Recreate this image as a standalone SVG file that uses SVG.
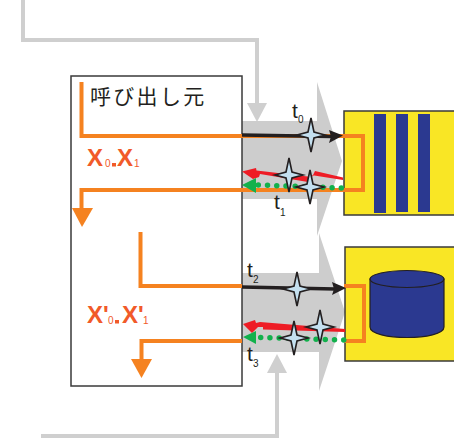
<svg xmlns="http://www.w3.org/2000/svg" width="454" height="438" viewBox="0 0 454 438">
<defs>
<path id="star" d="M0,-17 L3,-3 L14,0 L3,3 L0,17 L-3,3 L-14,0 L-3,-3 Z" fill="#c4e0f0" stroke="#231f20" stroke-width="1.6"/>
</defs>
<style>
.o{fill:none;stroke:#f58220;stroke-width:4}
.g{fill:none;stroke:#cfcfcf;stroke-width:4}
.t{font-family:"Liberation Sans",sans-serif;fill:#231f20;font-size:21px}
.s{font-family:"Liberation Sans",sans-serif;fill:#231f20;font-size:10px}
.x{font-family:"Liberation Sans",sans-serif;fill:#f15a29;font-weight:bold;font-size:24px}
.n{font-family:"Liberation Sans",sans-serif;fill:#f15a29;font-size:10px}
.dot{fill:none;stroke:#12b14c;stroke-width:5.500;stroke-linecap:round;stroke-dasharray:0 9.230}
.r{fill:#ee1c25}
</style>
<g id="bands">
<path d="M242,121 L317,121 L317,82 L342,161 L317,236 L317,199 L242,199 Z" fill="#cdcdcd"/>
<path d="M242,273 L319,273 L319,233 L345,312 L319,391 L319,352 L242,352 Z" fill="#cdcdcd"/>
</g>
<g id="caller">
<rect x="71" y="76" width="171" height="310" fill="none" stroke="#3a3a3a" stroke-width="1.500"/>
<text x="90" y="104" font-size="21" letter-spacing="2.300" fill="#231f20" style="font-family:'Noto Sans CJK JP','Liberation Sans',sans-serif">呼び出し元</text>
<text x="87" y="166" class="x">X</text>
<text x="105" y="167" class="n">0</text>
<rect x="112" y="163" width="4" height="3.500" fill="#f15a29"/>
<text x="117" y="166" class="x">X</text>
<text x="134" y="167" class="n">1</text>
<text x="87" y="323" class="x">X'</text>
<text x="108" y="324" class="n">0</text>
<rect x="115" y="320" width="4" height="3.500" fill="#f15a29"/>
<text x="122" y="323" class="x">X'</text>
<text x="143" y="324" class="n">1</text>
</g>
<g id="device1">
<rect x="344" y="111" width="112" height="104" fill="#f9e625" stroke="#3a3a3a" stroke-width="1.500"/>
<rect x="374" y="114" width="12" height="99" fill="#2b3990"/>
<rect x="396" y="114" width="12" height="98" fill="#2b3990"/>
<rect x="418" y="114" width="12" height="98" fill="#2b3990"/>
</g>
<g id="device2">
<rect x="345" y="247" width="111" height="114" fill="#f9e625" stroke="#3a3a3a" stroke-width="1.500"/>
<path d="M370,279 V327 C370,341 444,341 444,327 V279 Z" fill="#2b3990" stroke="#231f20" stroke-width="1.200"/>
<ellipse cx="407" cy="279" rx="37" ry="8.500" fill="#2b3990" stroke="#231f20" stroke-width="1.200"/>
</g>
<g id="connectors">
<path class="g" d="M23,0 V40 H257 V108"/>
<path d="M247,103 H267 L257,122 Z" fill="#cfcfcf"/>
<path class="g" d="M41,436 H277 V372"/>
<path d="M267,373 H287 L277,354 Z" fill="#cfcfcf"/>
<path class="o" d="M81.500,82 V136 H363 V190 H81.500 V208"/>
<path d="M72,208 H93 L82,227 Z" fill="#f58220"/>
<path class="o" d="M140.500,232 V286 H242 M344,286 H364 V341 H344 M242,341 H141.500 V360"/>
<path d="M131,359 H152 L141.500,378 Z" fill="#f58220"/>
<path d="M242,135 L332,136.500" stroke="#231f20" stroke-width="3.500" fill="none"/>
<path d="M329,130 L343,135.500 L329,143 L331,136.500 Z" fill="#231f20"/>
<path d="M242,287 L335,289" stroke="#231f20" stroke-width="3.500" fill="none"/>
<path d="M332,282 L346,288 L332,295 L334,289 Z" fill="#231f20"/>
<path class="r" d="M242,171.500 L256,168 L256.500,170.500 L312,177 L315,171 L343,177.500 V180 L311,175 L308,182 L260,174 L259,177 L253,179 Z"/>
<path class="r" d="M243,324 L255,320 L256,323 L260,322 L345,329 V332 L263,329.500 L263,327 L258,327 L252,333 Z"/>
<path d="M258.300,185 L342,188" class="dot"/>
<path d="M242,185 L256,178 L256,193 Z" fill="#12b14c"/>
<path d="M260.700,337.500 L344.500,340" class="dot"/>
<path d="M243,337 L256,331 L256,344 Z" fill="#12b14c"/>
</g>
<g id="stars">
<use href="#star" x="311" y="135"/>
<use href="#star" x="289" y="175"/>
<use href="#star" x="310" y="187"/>
<use href="#star" x="297" y="289"/>
<use href="#star" x="320" y="327"/>
<use href="#star" x="294" y="338"/>
</g>
<g id="labels">
<text x="292" y="118" class="t">t</text><text x="298" y="123" class="s">0</text>
<text x="274" y="209" class="t">t</text><text x="280" y="216" class="s">1</text>
<text x="247" y="277" class="t">t</text><text x="253" y="283" class="s">2</text>
<text x="247" y="361" class="t">t</text><text x="253" y="367" class="s">3</text>
</g>
</svg>
